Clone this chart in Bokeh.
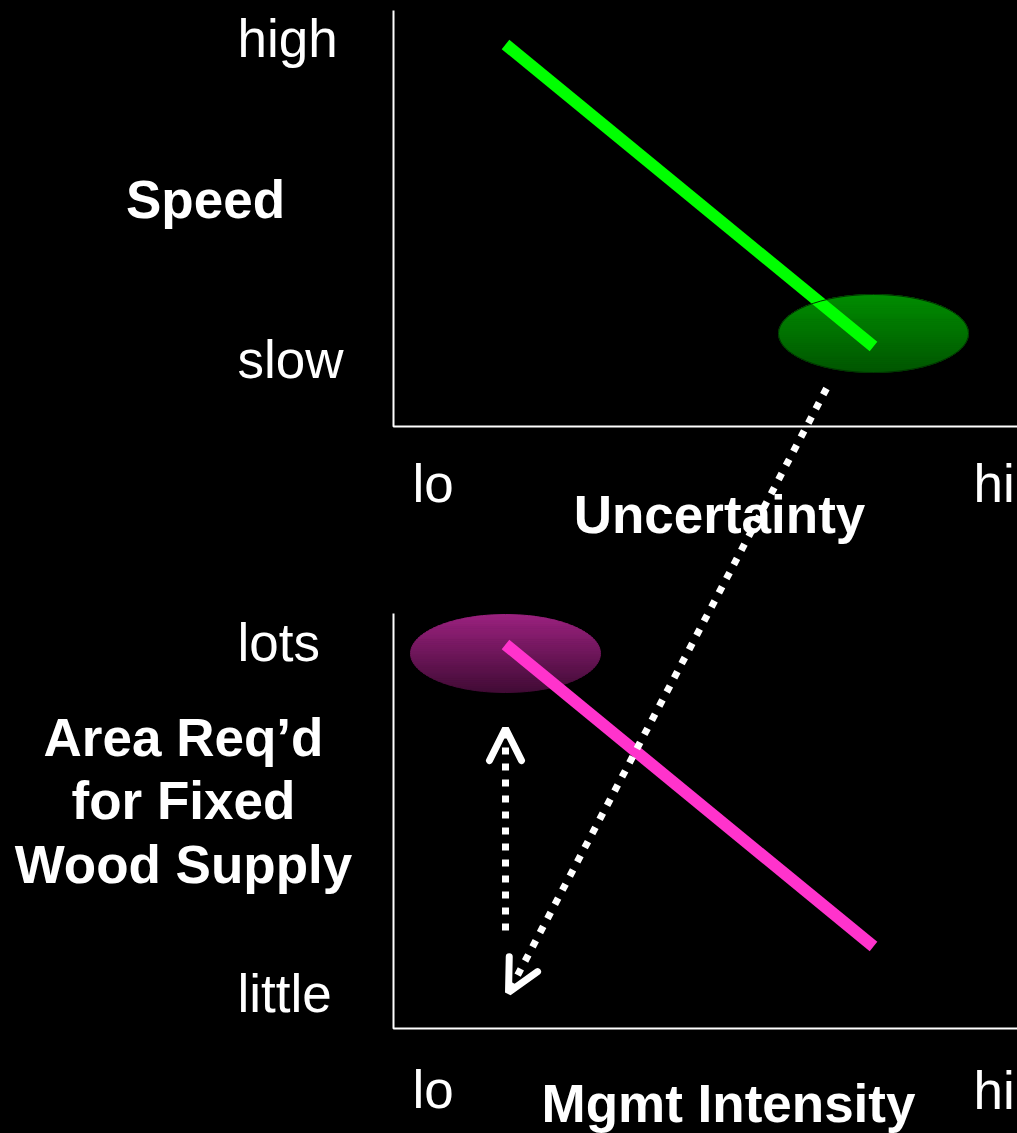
import numpy as np
from bokeh.plotting import figure
from bokeh.models import Range1d, Arrow, OpenHead
from bokeh.core.properties import value
from bokeh.embed import file_html
from bokeh.resources import INLINE

W, H = 1017, 1133

# ---- diagram data (diagram units, y grows downward) ----
# top panel: Speed vs Uncertainty
speed_line_x = [505, 873]
speed_line_y = [44, 346]
speed_ellipse = dict(cx=873, cy=333, a=95, b=39, top=(0, 142, 0), bottom=(0, 86, 0))
top_axis_x = [393, 393, 1017]
top_axis_y = [10, 426, 426]

# bottom panel: Area required vs Mgmt intensity
area_line_x = [505, 873]
area_line_y = [644, 946]
area_ellipse = dict(cx=505, cy=653, a=95, b=39, top=(156, 34, 128), bottom=(66, 12, 54))
bot_axis_x = [393, 393, 1017]
bot_axis_y = [613, 1028, 1028]

# dotted arrows
diag_arrow = (826, 388, 508, 992)
vert_arrow = (505, 930, 505, 728)

# labels
tick_labels = ["high", "slow", "lo", "hi", "lots", "little", "lo", "hi"]
tick_x = [237, 237, 412, 973, 237, 237, 412, 973]
tick_y = [38, 359, 483, 483, 642, 993, 1089, 1090]

title_labels = ["Speed", "Uncertainty", "Area Req\u2019d", "for Fixed", "Wood Supply", "Mgmt Intensity"]
title_x = [205, 719, 183, 183, 183, 728]
title_y = [199, 514, 737, 800, 864, 1103]

p = figure(width=W, height=H, output_backend="svg", toolbar_location=None,
           x_range=Range1d(0, W), y_range=Range1d(H, 0), min_border=0)
p.axis.visible = False
p.grid.visible = False
p.outline_line_color = None
p.background_fill_color = "black"
p.border_fill_color = "black"


def gradient_ellipse(e, n=40):
    xs, ys, cols = [], [], []
    t = np.linspace(0, 1, n + 1)
    for i in range(n):
        y0 = e["cy"] - e["b"] + 2 * e["b"] * t[i]
        y1 = e["cy"] - e["b"] + 2 * e["b"] * t[i + 1]
        yy = np.linspace(y0, y1, 6)
        half = e["a"] * np.sqrt(np.clip(1 - ((yy - e["cy"]) / e["b"]) ** 2, 0, 1))
        xs.append(list(e["cx"] - half) + list((e["cx"] + half)[::-1]))
        ys.append(list(yy) + list(yy[::-1]))
        f = (i + 0.5) / n
        c = tuple(int(round(e["top"][k] + (e["bottom"][k] - e["top"][k]) * f)) for k in range(3))
        cols.append("#%02x%02x%02x" % c)
    p.patches(xs, ys, fill_color=cols, line_color=cols, line_width=1)


# axes
p.line(top_axis_x, top_axis_y, line_color="white", line_width=2)
p.line(bot_axis_x, bot_axis_y, line_color="white", line_width=2)

# ellipses + lines
gradient_ellipse(speed_ellipse)
p.line(speed_line_x, speed_line_y, line_color="#00ff00", line_width=12, line_cap="butt")
p.ellipse(x=[speed_ellipse["cx"]], y=[speed_ellipse["cy"]], width=2 * speed_ellipse["a"],
          height=2 * speed_ellipse["b"], fill_color=None, line_color="#003300", line_width=1)

gradient_ellipse(area_ellipse)
p.line(area_line_x, area_line_y, line_color="#ff33cc", line_width=12, line_cap="butt")

# arrows
for (xs_, ys_, xe_, ye_) in (diag_arrow, vert_arrow):
    p.add_layout(Arrow(end=OpenHead(size=32, line_color="white", line_width=7, line_cap="round"),
                       x_start=xs_, y_start=ys_, x_end=xe_, y_end=ye_,
                       line_color="white", line_width=7, line_dash="7 9"))

font = value("Liberation Sans")
p.text(x=tick_x, y=tick_y, text=tick_labels, text_color="white", text_font=font,
       text_font_size="53px", text_align="left", text_baseline="alphabetic")
p.text(x=title_x, y=title_y, text=title_labels, text_color="white", text_font=font,
       text_font_size="53px", text_font_style="bold", text_align="center",
       text_baseline="alphabetic")

html = file_html(p, INLINE)
html = html.replace("<head>", "<head><style>html,body{margin:0;padding:0;background:#000;overflow:hidden;}</style>", 1)
open("out.html", "w").write(html)
